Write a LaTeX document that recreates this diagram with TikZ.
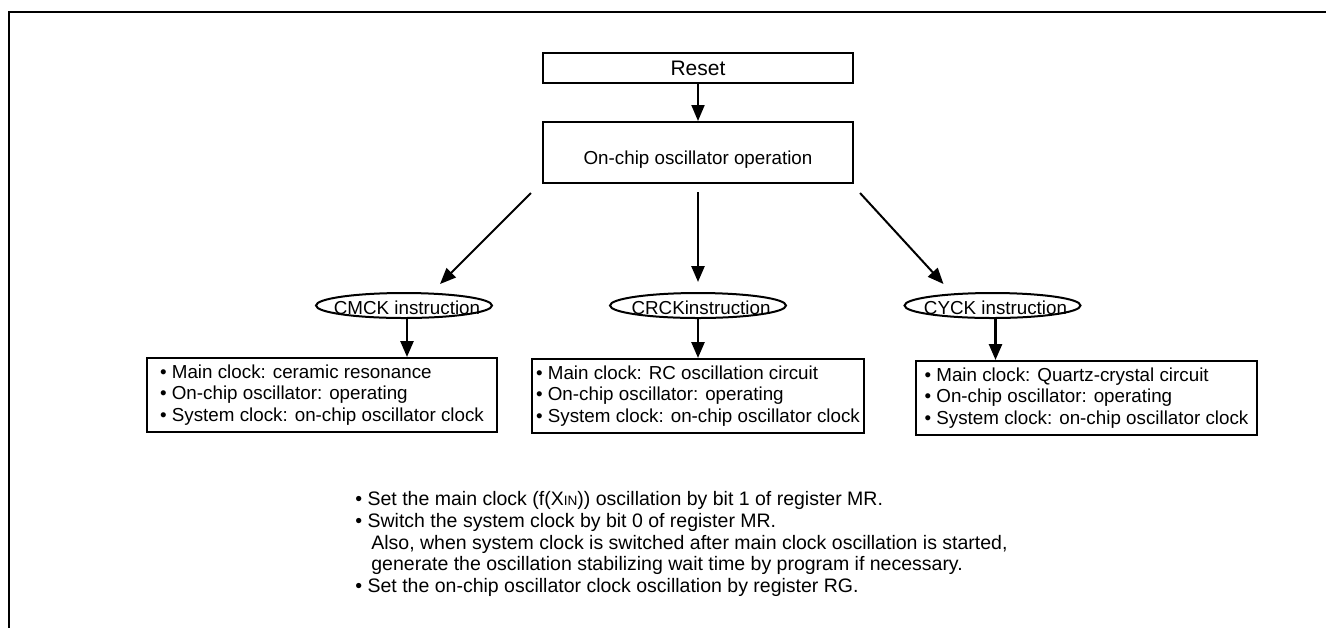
\documentclass[tikz,border=0pt]{standalone}
\usepackage{fontspec}
\setmainfont{Liberation Sans}
\usetikzlibrary{positioning,arrows.meta,shapes.geometric}
\tikzset{
  caja/.style={draw=black,line width=1pt,align=center,inner sep=0pt,font=\fontsize{9.4}{10.9}\selectfont},
  estado/.style={draw=black,line width=1pt,align=left,inner sep=0pt,minimum height=37pt,font=\fontsize{9.4}{10.8}\selectfont},
  instr/.style={ellipse,draw=black,line width=1pt,inner sep=0pt,minimum width=88pt,minimum height=12.5pt},
  etiq/.style={font=\fontsize{9.4}{10.9}\selectfont,xshift=1.5pt,yshift=-1.2pt},
  flecha/.style={-{Triangle[length=8pt,width=6.5pt]},line width=1pt},
  notas/.style={align=left,inner sep=0pt,font=\fontsize{9.75}{10.9}\selectfont},
}

\begin{document}
\begin{tikzpicture}[x=0.5pt,y=-0.5pt]
  \useasboundingbox (0,0) rectangle (1326,628);
  % frame
  \draw[line width=1pt] (1326,12) -| (9,628);
  % top
  \node[caja,minimum width=155pt,minimum height=15pt,font=\fontsize{10.5}{12}\selectfont] (reset) at (698,68) {Reset};
  \node[caja,minimum width=155pt,minimum height=30.5pt,text height=12pt,text depth=0pt] (osc) at (698,152.5) {On-chip oscillator operation};
  % instructions
  \node[instr,label={[etiq]center:CMCK instruction}] (cmck) at (404,305.5) {};
  \node[instr,label={[etiq]center:CRCKinstruction}] (crck) at (698,305.5) {};
  \node[instr,label={[etiq]center:CYCK instruction}] (cyck) at (992.5,305.5) {};
  % states
  \node[estado,minimum width=175pt] (m1) at (322,395) {%
    \textbullet\ Main clock: ceramic resonance\\
    \textbullet\ On-chip oscillator: operating\\
    \textbullet\ System clock: on-chip oscillator clock};
  \node[estado,minimum width=166pt] (m2) at (698,396) {%
    \textbullet\ Main clock: RC oscillation circuit\\
    \textbullet\ On-chip oscillator: operating\\
    \textbullet\ System clock: on-chip oscillator clock};
  \node[estado,minimum width=170.5pt] (m3) at (1086.5,398) {%
    \textbullet\ Main clock: Quartz-crystal circuit\\
    \textbullet\ On-chip oscillator: operating\\
    \textbullet\ System clock: on-chip oscillator clock};
  % notes
  \node[notas,anchor=north west] (nota) at (355,491) {%
    \textbullet\ Set the main clock (f(X{\fontsize{6.8}{7}\selectfont IN})) oscillation by bit 1 of register MR.\\
    \textbullet\ Switch the system clock by bit 0 of register MR.\\
    \hspace*{8pt}Also, when system clock is switched after main clock oscillation is started,\\
    \hspace*{8pt}generate the oscillation stabilizing wait time by program if necessary.\\
    \textbullet\ Set the on-chip oscillator clock oscillation by register RG.};
  % arrows
  \draw[flecha] (reset) -- (osc);
  \draw[flecha] ([xshift=-5.5pt,yshift=-4.5pt]osc.south west) -- ([xshift=18pt,yshift=4pt]cmck.north);
  \draw[flecha,line width=1.3pt] ([yshift=-4pt]osc.south) -- ([yshift=5pt]crck.north);
  \draw[flecha] ([xshift=3pt,yshift=-4.5pt]osc.south east) -- ([xshift=-24.5pt,yshift=4pt]cyck.north);
  \draw[flecha,line width=1.3pt] ([xshift=1.5pt]cmck.south) -- ([xshift=1.5pt]cmck.south |- m1.north);
  \draw[flecha,line width=1.3pt] (crck.south) -- (crck.south |- m2.north);
  \draw[flecha,line width=1.3pt] ([xshift=1.5pt]cyck.south) -- ([xshift=1.5pt]cyck.south |- m3.north);
\end{tikzpicture}
\end{document}
